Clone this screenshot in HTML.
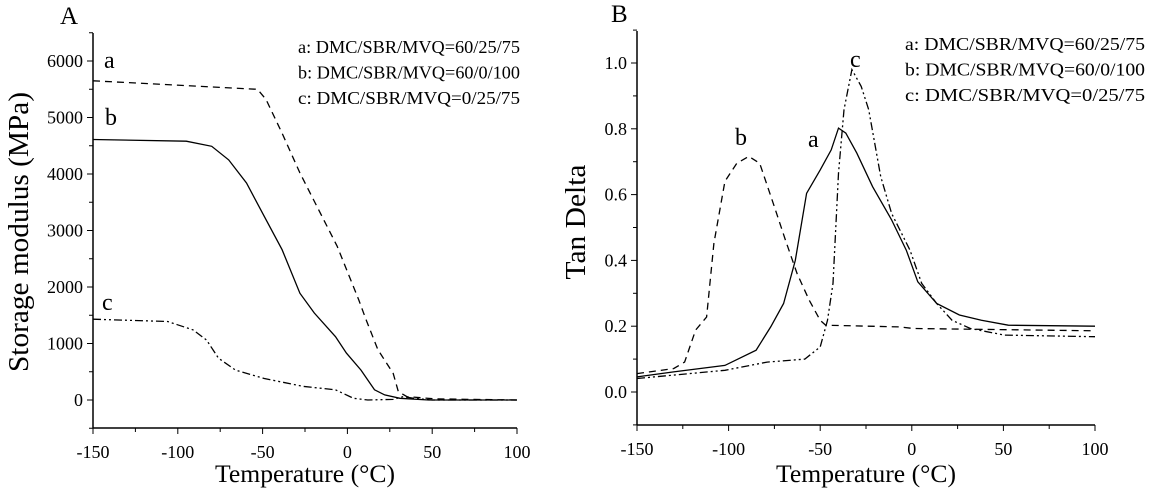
<!DOCTYPE html>
<html><head><meta charset="utf-8"><style>
body{margin:0;background:#fff;}
svg{display:block;font-family:"Liberation Serif",serif;}
</style></head><body>
<svg id="chart" width="1151" height="493" viewBox="0 0 1151 493"></svg>
<script>
// Panel A data (temperature °C, storage modulus MPa)
const aT=[-150,-53,-48,-38.6,-28,-15,-6,0.4,6.7,11,18,27,30,35,52,100];
const aV=[5650,5500,5320,4730,4020,3250,2720,2240,1770,1420,890,470,150,60,20,0];
const bT=[-150,-95,-80,-70,-59.5,-49,-38.5,-28,-19.5,-7,-0.6,8,16,22,31,48,100];
const bV=[4610,4580,4490,4250,3840,3250,2660,1890,1540,1120,830,530,180,90,30,0,0];
const cT=[-150,-106,-91,-83,-76,-66,-49,-26,-7,3.6,12,27,33,39,50,100];
const cV=[1430,1390,1240,1060,740,530,380,240,180,30,0,10,60,30,0,0];
// Panel B data (temperature °C, tan delta)
const taT=[-150,-130,-102,-85,-77,-70,-63.6,-57.4,-50,-44,-40,-36,-30,-21.4,-11,-3,3.3,13.6,26,38,52.7,100];
const taV=[0.046,0.061,0.081,0.127,0.198,0.269,0.40,0.604,0.675,0.736,0.802,0.787,0.726,0.624,0.523,0.431,0.335,0.269,0.234,0.218,0.203,0.2];
const tbT=[-150,-130,-124,-118,-112,-108,-102,-95.5,-89,-83,-75,-69,-62.6,-56,-50,-47,-7,1,100];
const tbV=[0.056,0.071,0.091,0.188,0.228,0.452,0.640,0.695,0.716,0.695,0.563,0.462,0.36,0.279,0.218,0.203,0.198,0.193,0.186];
const tcT=[-150,-102,-79,-58.4,-50,-46,-43,-40,-37,-32.7,-27.6,-23.5,-17,-11,-1,5.4,13.6,22,32,50.6,100];
const tcV=[0.041,0.066,0.091,0.10,0.137,0.218,0.33,0.665,0.858,0.98,0.929,0.858,0.655,0.543,0.431,0.33,0.269,0.218,0.193,0.173,0.168];
const xTicks=[-150,-100,-50,0,50,100];
const yTicksA=[0,1000,2000,3000,4000,5000,6000];
const yTicksB=[0.0,0.2,0.4,0.6,0.8,1.0];
const legend=["a: DMC/SBR/MVQ=60/25/75","b: DMC/SBR/MVQ=60/0/100","c: DMC/SBR/MVQ=0/25/75"];

const svg=document.getElementById('chart');
const NS='http://www.w3.org/2000/svg';
function mk(tag,at,txt){const e=document.createElementNS(NS,tag);for(const k in at)e.setAttribute(k,at[k]);if(txt!==undefined)e.textContent=txt;svg.appendChild(e);return e;}

function panel(P){
  const sx=t=>P.x0+(t+150)/250*(P.x1-P.x0);
  const sy=v=>P.y0-(v/P.vmax)*(P.y0-P.yTop);
  let e=mk('line',{x1:P.x0,y1:P.axT,x2:P.x0,y2:P.axB,stroke:'#000','stroke-width':1.5});
  
  
  e=mk('line',{x1:P.x0,y1:P.axB,x2:P.x1,y2:P.axB,stroke:'#000','stroke-width':1.5});
  
  
  for(let t=-150;t<=100;t+=25){
    const big=(t%50===0);
    mk('line',{x1:sx(t),y1:P.axB,x2:sx(t),y2:P.axB+(big?6:4),stroke:'#000','stroke-width':1});
  }
  xTicks.forEach(t=>{
    e=mk('text',{x:sx(t),y:P.axB+30,'font-size':18,'text-anchor':'middle'},String(t));
    
    
  });
  const minorStep=P.yTicks[1]-P.yTicks[0];
  for(let v=P.vmin;v<=P.vtop+1e-9;v+=minorStep/2){
    const big=Math.abs(Math.round(v/minorStep)*minorStep-v)<1e-9;
    mk('line',{x1:P.x0,y1:sy(v),x2:P.x0-(big?6:4),y2:sy(v),stroke:'#000','stroke-width':1});
  }
  P.yTicks.forEach(v=>{
    e=mk('text',{x:P.x0-10,y:sy(v)+6,'font-size':18,'text-anchor':'end'},P.fmt(v));
    
    
  });
  P.series.forEach(s=>{
    const d=s.T.map((t,i)=>(i?'L':'M')+sx(t).toFixed(1)+','+sy(s.V[i]).toFixed(1)).join(' ');
    e=mk('path',{d:d,fill:'none',stroke:'#000','stroke-width':1.3,'stroke-dasharray':s.dash});
    
    
  });
  P.lbl.forEach(l=>{
    e=mk('text',{x:l[1],y:l[2],'font-size':24},l[0]);
    
    
  });
  legend.forEach((t,i)=>{
    e=mk('text',{x:P.lx,y:P.ly+i*25.5,'font-size':18,textLength:P.lw,lengthAdjust:'spacingAndGlyphs'},t);
    
    
  });
  e=mk('text',{x:P.tx,y:P.ty,'font-size':25},P.title);
  
  
  e=mk('text',{x:(P.x0+P.x1)/2,y:482,'font-size':25,'text-anchor':'middle',textLength:180,lengthAdjust:'spacingAndGlyphs'},'Temperature (°C)');
  
  
  e=mk('text',{x:0,y:0,'font-size':28,'text-anchor':'middle',transform:'translate('+P.ytx+','+P.yty+') rotate(-90)',textLength:P.ytl,lengthAdjust:'spacingAndGlyphs'},P.ytitle);
  
  
}

panel({id:'panel-a',x0:93,x1:517,y0:400,yTop:61,vmax:6000,axT:33,axB:428,vmin:-500,vtop:6500,yTicks:yTicksA,fmt:v=>String(v),
  series:[{n:'a',T:aT,V:aV,dash:'7,5'},{n:'b',T:bT,V:bV,dash:''},{n:'c',T:cT,V:cV,dash:'8,3,2,3,2,3'}],
  lbl:[['a',104,68],['b',105,125],['c',102,310]],lx:298,ly:53,lw:222,tx:60,ty:24,ytitle:'Storage modulus (MPa)',ytx:28,yty:232,ytl:280,title:'A'});
panel({id:'panel-b',x0:637,x1:1095,y0:392,yTop:63,vmax:1.0,axT:31,axB:425,vmin:-0.1,vtop:1.1,yTicks:yTicksB,fmt:v=>v.toFixed(1),
  series:[{n:'a',T:taT,V:taV,dash:''},{n:'b',T:tbT,V:tbV,dash:'7,5'},{n:'c',T:tcT,V:tcV,dash:'8,3,2,3,2,3'}],
  lbl:[['b',735,145],['a',808,147],['c',850,67]],lx:905,ly:50,lw:240,tx:611,ty:22,ytitle:'Tan Delta',ytx:585,yty:222,ytl:115,title:'B'});
</script>
</body></html>
